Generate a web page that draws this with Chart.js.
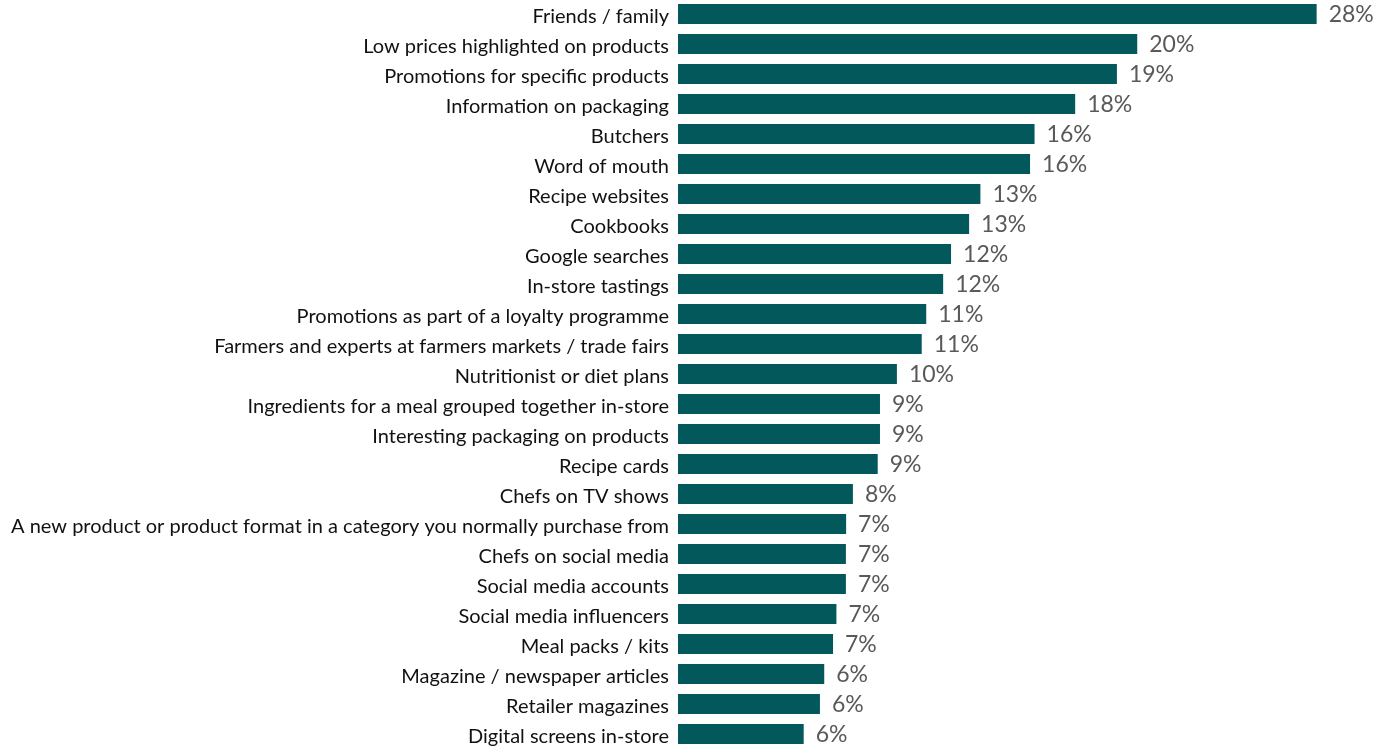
<!DOCTYPE html>
<html>
<head>
<meta charset="utf-8">
<script src="https://cdn.jsdelivr.net/npm/chart.js@4/dist/chart.umd.min.js"></script>
<style>
  html, body { margin: 0; padding: 0; background: #ffffff; overflow: hidden; }
  #wrap { position: absolute; left: 0; top: -1px; width: 1383px; height: 750px; }
</style>
</head>
<body>
<div id="wrap"><canvas id="chart" width="1383" height="750"></canvas></div>
<script>
// Sources of inspiration, share of respondents (%)
const categories = [
  "Friends / family",
  "Low prices highlighted on products",
  "Promotions for specific products",
  "Information on packaging",
  "Butchers",
  "Word of mouth",
  "Recipe websites",
  "Cookbooks",
  "Google searches",
  "In-store tastings",
  "Promotions as part of a loyalty programme",
  "Farmers and experts at farmers markets / trade fairs",
  "Nutritionist or diet plans",
  "Ingredients for a meal grouped together in-store",
  "Interesting packaging on products",
  "Recipe cards",
  "Chefs on TV shows",
  "A new product or product format in a category you normally purchase from",
  "Chefs on social media",
  "Social media accounts",
  "Social media influencers",
  "Meal packs / kits",
  "Magazine / newspaper articles",
  "Retailer magazines",
  "Digital screens in-store"
];

const shares = [
  28.3, 20.35, 19.45, 17.6, 15.8, 15.6, 13.4, 12.9, 12.1, 11.75,
  11.0, 10.8, 9.7, 8.95, 8.95, 8.85, 7.75, 7.45, 7.44, 7.44,
  7.02, 6.87, 6.48, 6.29, 5.57
];

const BAR_COLOR = "#02585B";
const VALUE_COLOR = "#595959";

// Writes the rounded percentage just past the end of each bar
const valueLabels = {
  id: "valueLabels",
  afterDatasetsDraw(chart) {
    const ctx = chart.ctx;
    const meta = chart.getDatasetMeta(0);
    const data = chart.data.datasets[0].data;
    ctx.save();
    ctx.font = "23px Lato";
    ctx.fillStyle = VALUE_COLOR;
    ctx.textAlign = "left";
    ctx.textBaseline = "middle";
    meta.data.forEach((bar, i) => {
      ctx.fillText(Math.round(data[i]) + "%", bar.x + 12, bar.y + 1);
    });
    ctx.restore();
  }
};

new Chart(document.getElementById("chart"), {
  type: "bar",
  data: {
    labels: categories,
    datasets: [{
      data: shares,
      backgroundColor: BAR_COLOR,
      borderWidth: 0,
      barPercentage: 1,
      categoryPercentage: 20 / 30
    }]
  },
  options: {
    indexAxis: "y",
    responsive: false,
    animation: false,
    layout: { padding: { left: 0, right: 28, top: 0, bottom: 0 } },
    plugins: {
      legend: { display: false },
      tooltip: { enabled: false }
    },
    scales: {
      x: {
        display: false,
        min: 0,
        max: 30
      },
      y: {
        grid: { display: false, drawTicks: false },
        border: { display: false },
        ticks: {
          color: "#111111",
          padding: 9,
          labelOffset: 3,
          autoSkip: false,
          font: { family: "Lato", size: 20 }
        },
        afterFit(scale) {
          scale.width = 678;
          scale.paddingTop = 0;
          scale.paddingBottom = 0;
        }
      }
    }
  },
  plugins: [valueLabels]
});
</script>
</body>
</html>
